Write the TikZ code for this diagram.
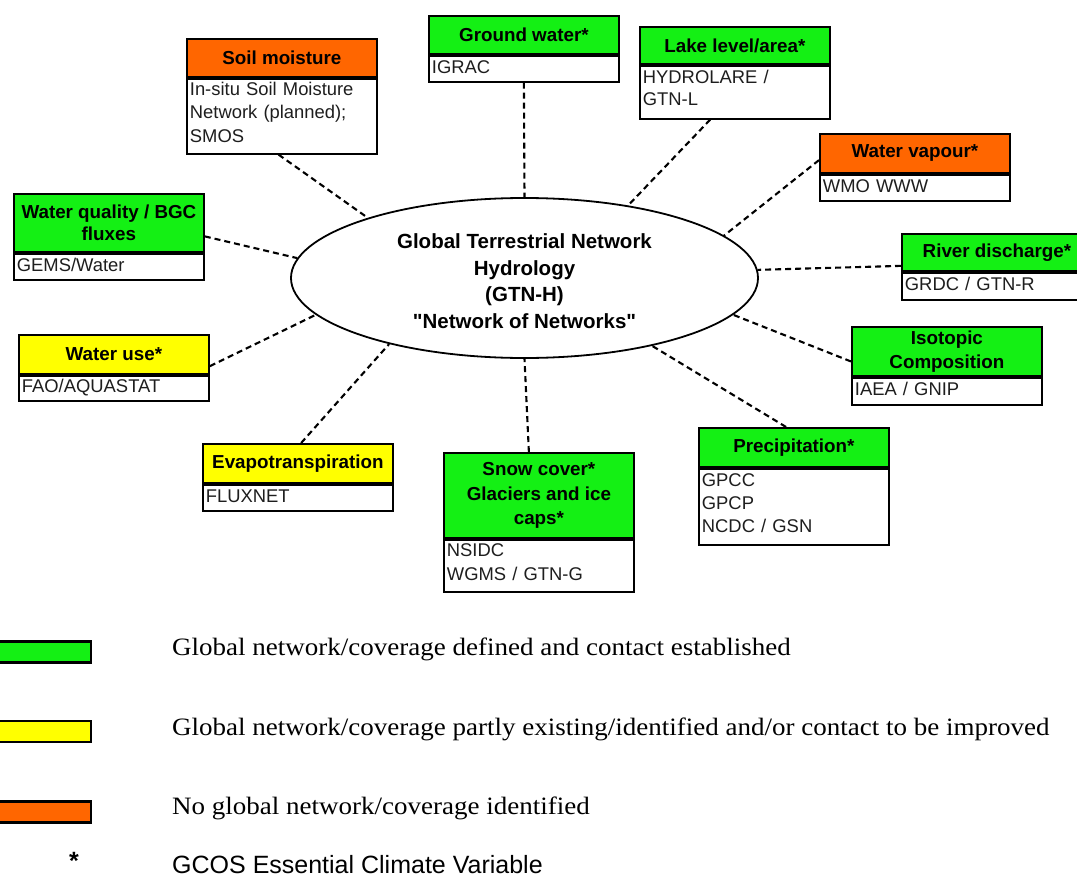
\documentclass[tikz,border=0pt]{standalone}
\usepackage{fontspec}
\usetikzlibrary{shapes.geometric}
\newfontfamily\arial{Liberation Sans}
\newfontfamily\legserif[FakeStretch=1.08]{Liberation Serif}
\definecolor{cgreen}{RGB}{20,240,20}
\definecolor{cyellow}{RGB}{255,255,0}
\definecolor{corange}{RGB}{255,102,0}
\definecolor{ctext}{RGB}{30,30,30}
\tikzset{
  hdr/.style={draw, line width=1.8pt, minimum width=190pt, inner sep=0pt, align=center,
    anchor=north west, font=\arial\bfseries\fontsize{18.8}{23.5}\selectfont},
  bod/.style={draw, line width=1.8pt, minimum width=190pt, text width=184pt, inner xsep=3pt,
    inner ysep=0pt, align=left, anchor=north west, fill=white, text=ctext, text depth=4pt,
    font=\arial\fontsize{18.4}{23.3}\selectfont},
  multi/.style={text depth=, text height=5.5pt},
  conn/.style={line width=2.1pt, dash pattern=on 6pt off 4pt},
  legtext/.style={anchor=west, inner sep=0pt, font=\legserif\fontsize{25}{30}\selectfont},
}
\begin{document}
\begin{tikzpicture}[x=1pt,y=-1pt]
\useasboundingbox (0,0) rectangle (1077,878);
\clip (0,0) rectangle (1077,878);

% central ellipse
\node[draw, ellipse, line width=1.8pt, minimum width=467pt, minimum height=160pt, inner sep=0pt] (gtnh) at (524.5,278) {};
\node[inner sep=0pt, align=center, font=\arial\bfseries\fontsize{20.5}{26.5}\selectfont] (gtnhtext) at (524.5,281)
  {Global Terrestrial Network\\Hydrology\\(GTN-H)\\"Network of Networks"};

% Soil moisture
\node[hdr, fill=corange, minimum height=38pt] (sm) at (186,38) {Soil moisture};
\node[bod, multi, minimum height=75pt] (smb) at (sm.south west) {In-situ Soil Moisture\\Network (planned);\\SMOS};
% Water quality
\node[hdr, fill=cgreen, minimum height=58pt, font=\arial\bfseries\fontsize{18.8}{22}\selectfont] (wq) at (13,193) {Water quality / BGC\\fluxes};
\node[bod, minimum height=26pt] (wqb) at (wq.south west) {GEMS/Water};
% Ground water
\node[hdr, fill=cgreen, minimum height=38pt] (gw) at (428,15) {Ground water*};
\node[bod, minimum height=26pt] (gwb) at (gw.south west) {IGRAC};
% Lake level
\node[hdr, fill=cgreen, minimum height=37pt] (ll) at (639,26) {Lake level/area*};
\node[bod, multi, minimum height=53pt, font=\arial\fontsize{18.4}{22}\selectfont] (llb) at (ll.south west) {HYDROLARE /\\GTN-L};
% Water vapour
\node[hdr, fill=corange, minimum height=39pt] (wv) at (819,133) {Water vapour*};
\node[bod, minimum height=26pt] (wvb) at (wv.south west) {WMO WWW};
% River discharge
\node[hdr, fill=cgreen, minimum height=37pt] (rd) at (901,233) {River discharge*};
\node[bod, minimum height=27pt] (rdb) at (rd.south west) {GRDC / GTN-R};
% Isotopic composition
\node[hdr, fill=cgreen, minimum height=49pt, font=\arial\bfseries\fontsize{18.8}{24}\selectfont] (ic) at (851,326) {Isotopic\\Composition};
\node[bod, minimum height=27pt] (icb) at (ic.south west) {IAEA / GNIP};
% Water use
\node[hdr, fill=cyellow, minimum height=39pt] (wu) at (18,334) {Water use*};
\node[bod, minimum height=25pt] (wub) at (wu.south west) {FAO/AQUASTAT};
% Evapotranspiration
\node[hdr, fill=cyellow, minimum height=39pt] (ev) at (202,443) {Evapotranspiration};
\node[bod, minimum height=26pt] (evb) at (ev.south west) {FLUXNET};
% Snow cover
\node[hdr, fill=cgreen, minimum height=85pt, font=\arial\bfseries\fontsize{18.8}{24.5}\selectfont] (sc) at (443,452) {Snow cover*\\Glaciers and ice\\caps*};
\node[bod, multi, minimum height=52pt] (scb) at (sc.south west) {NSIDC\\WGMS / GTN-G};
% Precipitation
\node[hdr, fill=cgreen, minimum height=39pt] (pr) at (698,427) {Precipitation*};
\node[bod, multi, minimum height=76pt] (prb) at (pr.south west) {GPCC\\GPCP\\NCDC / GSN};

% connectors
\draw[conn] (smb.-95) -- (gtnh.159);
\draw[conn] (wq.-8) -- (gtnh.175.6);
\draw[conn] (gwb.south) -- (gtnh.90);
\draw[conn] (llb.-132) -- (gtnh.35);
\draw[conn] (wv.184) -- (gtnh.12);
\draw[conn] (rd.188) -- (gtnh.2);
\draw[conn] (ic.186) -- (gtnh.-10);
\draw[conn] (pr.111) -- (gtnh.-28);
\draw[conn] (sc.103) -- (gtnh.-90);
\draw[conn] (ev.81) -- (gtnh.206.5);
\draw[conn] (wu.-7) -- (gtnh.190);

% legend
\fill[black] (-3,640) rectangle (92,664);
\fill[cgreen] (-3,642.5) rectangle (89.5,660.5);
\node[legtext] (lg1) at (172,649) {Global network/coverage defined and contact established};
\fill[black] (-3,720) rectangle (92,743);
\fill[cyellow] (-3,722) rectangle (89.5,740.5);
\node[legtext] (lg2) at (172,729) {Global network/coverage partly existing/identified and/or contact to be improved};
\fill[black] (-3,800) rectangle (92,824);
\fill[corange] (-3,802.5) rectangle (89.5,820.5);
\node[legtext] (lg3) at (172,808) {No global network/coverage identified};
\node[inner sep=0pt, font=\arial\bfseries\fontsize{25}{30}\selectfont] (ast) at (74,861) {*};
\node[anchor=west, inner sep=0pt, font=\arial\fontsize{25}{30}\selectfont] (lg4) at (172,864.5) {GCOS Essential Climate Variable};
\end{tikzpicture}
\end{document}
